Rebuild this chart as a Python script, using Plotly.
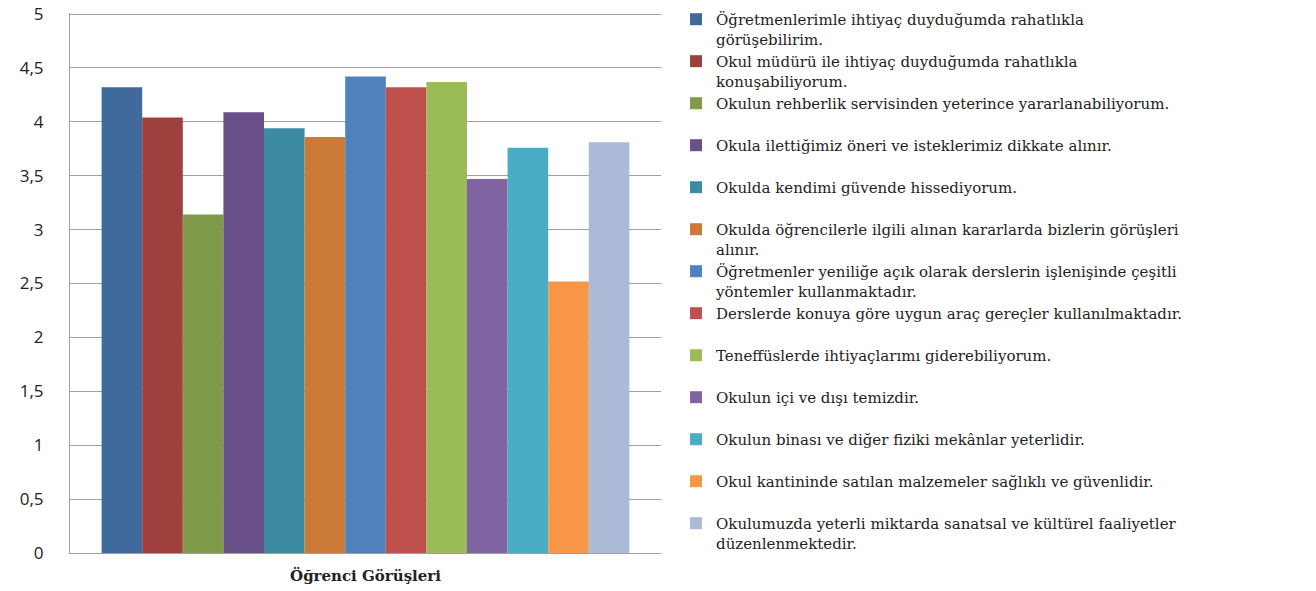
import plotly.graph_objects as go

category = ["Öğrenci Görüşleri"]

statements = [
    "Öğretmenlerimle ihtiyaç duyduğumda rahatlıkla<br>görüşebilirim.",
    "Okul müdürü ile ihtiyaç duyduğumda rahatlıkla<br>konuşabiliyorum.",
    "Okulun rehberlik servisinden yeterince yararlanabiliyorum.",
    "Okula ilettiğimiz öneri ve isteklerimiz dikkate alınır.",
    "Okulda kendimi güvende hissediyorum.",
    "Okulda öğrencilerle ilgili alınan kararlarda bizlerin görüşleri<br>alınır.",
    "Öğretmenler yeniliğe açık olarak derslerin işlenişinde çeşitli<br>yöntemler kullanmaktadır.",
    "Derslerde konuya göre uygun araç gereçler kullanılmaktadır.",
    "Teneffüslerde ihtiyaçlarımı giderebiliyorum.",
    "Okulun içi ve dışı temizdir.",
    "Okulun binası ve diğer fiziki mekânlar yeterlidir.",
    "Okul kantininde satılan malzemeler sağlıklı ve güvenlidir.",
    "Okulumuzda yeterli miktarda sanatsal ve kültürel faaliyetler<br>düzenlenmektedir.",
]

scores = [4.32, 4.04, 3.14, 4.09, 3.94, 3.86, 4.42, 4.32, 4.37, 3.47, 3.76, 2.52, 3.81]

colors = ["#416A9C", "#9E413E", "#7F9A48", "#6A5088", "#3D8BA3", "#CB7B37",
          "#4F81BD", "#C0504D", "#9BBB59", "#8064A2", "#4BACC6", "#F79646", "#AABAD7"]

y_ticks = [0, 0.5, 1, 1.5, 2, 2.5, 3, 3.5, 4, 4.5, 5]

fig = go.Figure()
for name, val, col in zip(statements, scores, colors):
    label = name if "<br>" in name else name + "<br> "
    fig.add_trace(go.Bar(x=category, y=[val], name=label,
                         marker=dict(color=col, line=dict(width=0))))

fig.update_layout(
    width=1316, height=591,
    barmode="group", bargap=0.107, bargroupgap=0,
    separators=",.",
    plot_bgcolor="white", paper_bgcolor="white",
    margin=dict(l=70, r=655, t=13, b=38, autoexpand=False),
    showlegend=True,
    legend=dict(xref="container", yref="container",
                x=0.5137, xanchor="left", y=0.995, yanchor="top",
                valign="top", traceorder="normal", maxheight=1,
                font=dict(family="DejaVu Serif", size=15, color="#222"),
                itemwidth=30, tracegroupgap=0, bgcolor="rgba(0,0,0,0)"),
    xaxis=dict(showline=True, linecolor="#a0a0a0", linewidth=1, ticks="",
               ticklabelstandoff=9,
               tickfont=dict(family="DejaVu Serif", size=15, color="#222"),
               tickprefix="<b>", ticksuffix="</b>"),
    yaxis=dict(range=[0, 5.01], tickvals=y_ticks, showgrid=True, gridcolor="#a0a0a0",
               gridwidth=1, showline=True, linecolor="#a0a0a0", linewidth=1,
               ticks="", ticklabelstandoff=22, ticklabeloverflow="allow",
               tickfont=dict(family="Open Sans", size=17, color="#222"),
               zeroline=False),
)

fig.write_html("out.html", config={"displayModeBar": False},
               post_script="document.body.style.margin='0';")
